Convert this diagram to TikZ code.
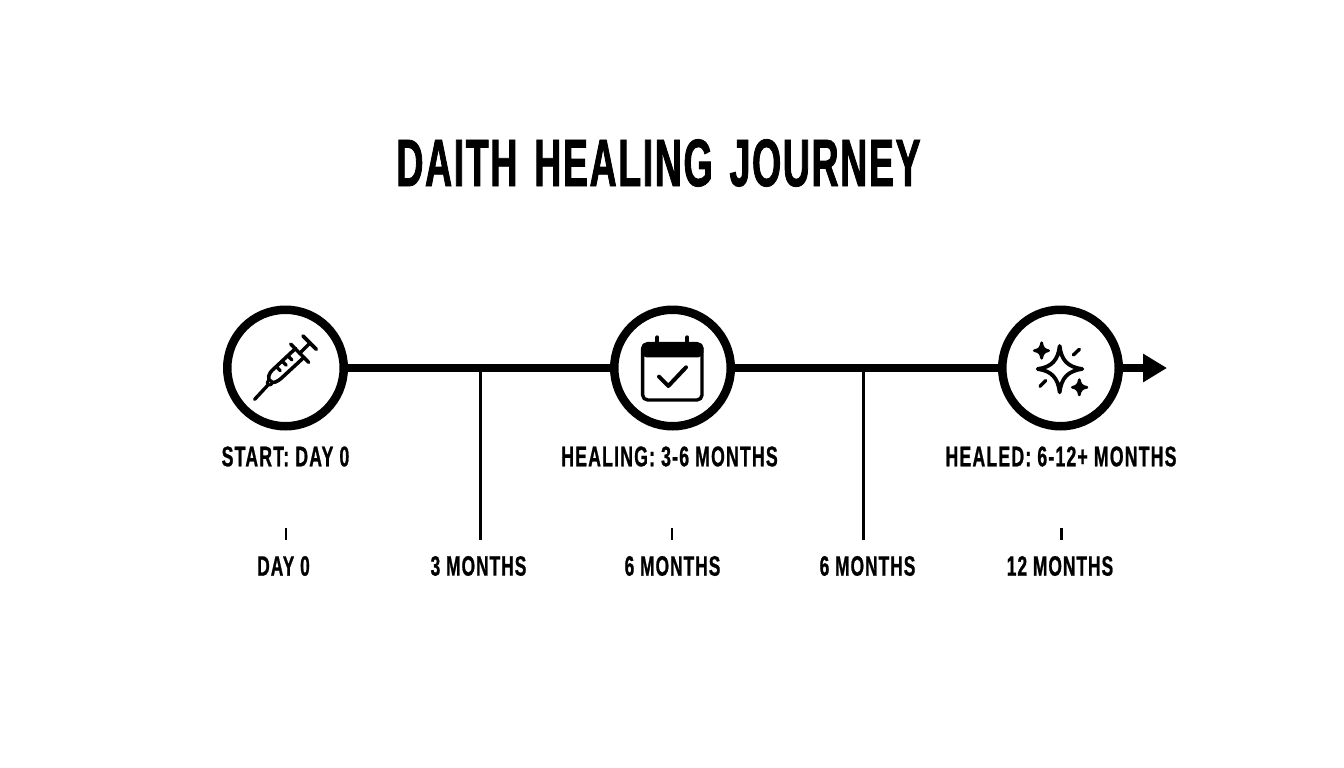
\documentclass[tikz,border=0pt]{standalone}
\usepackage{fontspec}
\usetikzlibrary{arrows.meta}
\newfontfamily\titlefont[FakeStretch=0.56,LetterSpace=2.4,WordSpace=1.4,FakeBold=1.2]{Liberation Sans Bold}
\newfontfamily\labelfont[FakeStretch=0.62,LetterSpace=4.2,FakeBold=0.8]{Liberation Sans Bold}
\newfontfamily\axisfont[FakeStretch=0.62,LetterSpace=3.6,FakeBold=0.8]{Liberation Sans Bold}
\tikzset{
  stage/.style={circle,draw=black,line width=8.5pt,fill=white,minimum size=116.5pt,inner sep=0pt},
  mainline/.style={line width=8pt,draw=black},
  tickline/.style={line width=2.5pt,draw=black},
  titletext/.style={font=\titlefont\fontsize{67}{67}\selectfont,inner sep=0pt,anchor=center},
  labeltext/.style={font=\labelfont\fontsize{28.5}{28.5}\selectfont,inner sep=0pt,anchor=center},
  axistext/.style={font=\axisfont\fontsize{28}{28}\selectfont,inner sep=0pt,anchor=center},
  icon/.style={line width=3.4pt,draw=black,line cap=round,line join=round},
}
\begin{document}
\begin{tikzpicture}[x=1pt,y=-1pt]
\useasboundingbox[fill=white] (0,0) rectangle (1344,768);
\node[titletext] (title) at (658.5,163) {DAITH HEALING JOURNEY};
\coordinate (tip) at (1167,368);
\coordinate (t1a) at (480.5,368);\coordinate (t1b) at (480.5,540);
\coordinate (t2a) at (863.5,368);\coordinate (t2b) at (863.5,540);
\coordinate (s1a) at (286,528);\coordinate (s1b) at (286,540);
\coordinate (s2a) at (672,528);\coordinate (s2b) at (672,540);
\coordinate (s3a) at (1061.5,528);\coordinate (s3b) at (1061.5,540);
\draw[tickline] (t1a) -- (t1b);
\draw[tickline] (t2a) -- (t2b);
\draw[tickline] (s1a) -- (s1b);
\draw[tickline] (s2a) -- (s2b);
\draw[tickline] (s3a) -- (s3b);
\node[stage] (start) at (285.5,368) {};
\node[stage] (heal) at (672.5,368) {};
\node[stage] (done) at (1060.5,368) {};
\draw[mainline] (start) -- (heal);
\draw[mainline] (heal) -- (done);
\draw[mainline,-{Triangle[length=24pt,width=27pt,inset=0pt]}] (done) -- (tip);
% syringe
\begin{scope}[shift={(248,330)},x=0.3333pt,y=-0.3333pt]
\draw[icon] (20,208) -- (60,165);
\draw[icon,line width=3.8pt] (165,18) -- (205,58);
\draw[icon] (155,70) -- (185,40);
\draw[icon] (128,42) -- (182,97);
\draw[icon,line width=3.5pt,rounded corners=3pt] (143,55) -- (65,128) -- (60,148) -- (72,160) -- (92,152) -- (168,82);
\draw[icon,line width=3pt,fill=white] (65,158) circle (7);
\draw[icon,line width=3.2pt] (85,110) -- (97,122);
\draw[icon,line width=3.2pt] (103,94) -- (115,106);
\draw[icon,line width=3.2pt] (120,78) -- (132,90);
\end{scope}
% calendar
\begin{scope}[shift={(600,295)},x=0.3333pt,y=-0.3333pt]
\draw[icon,rounded corners=5pt] (128,146) rectangle (306,315);
\fill[rounded corners=5pt] (124,143) rectangle (310,187);
\draw[icon,line width=4pt] (172,127) -- (172,150);
\draw[icon,line width=4pt] (262,127) -- (262,150);
\draw[icon,line width=4pt] (177,245) -- (205,273) -- (258,217);
\end{scope}
% sparkles
\begin{scope}[shift={(990,295)},x=0.3333pt,y=-0.3333pt]
\draw[icon,line width=3.8pt] (209,153) .. controls (214,195) and (232,216) .. (277,222)
  .. controls (232,228) and (214,250) .. (209,292)
  .. controls (204,250) and (186,228) .. (143,222)
  .. controls (186,216) and (204,195) .. cycle;
\draw[icon,line width=2.6pt,fill=black] (155,143) .. controls (157,158) and (163,165) .. (176,167)
  .. controls (163,169) and (157,176) .. (155,190)
  .. controls (153,176) and (147,169) .. (133,167)
  .. controls (147,165) and (153,158) .. cycle;
\draw[icon,line width=2.6pt,fill=black] (268,254) .. controls (270,268) and (276,275) .. (291,277)
  .. controls (276,279) and (270,286) .. (268,300)
  .. controls (266,286) and (260,279) .. (247,277)
  .. controls (260,275) and (266,268) .. cycle;
\draw[icon] (250,180) -- (268,163);
\draw[icon] (150,274) -- (167,257);
\end{scope}
\node[labeltext] (l1) at (285.5,456.5) {START: DAY 0};
\node[labeltext] (l2) at (669.5,456.5) {HEALING: 3-6 MONTHS};
\node[labeltext] (l3) at (1061,456.5) {HEALED: 6-12+ MONTHS};
\node[axistext] (a1) at (283.5,566) {DAY 0};
\node[axistext] (a2) at (478.5,566) {3 MONTHS};
\node[axistext] (a3) at (672.5,566) {6 MONTHS};
\node[axistext] (a4) at (867.5,566) {6 MONTHS};
\node[axistext] (a5) at (1060,566) {12 MONTHS};
\end{tikzpicture}
\end{document}
